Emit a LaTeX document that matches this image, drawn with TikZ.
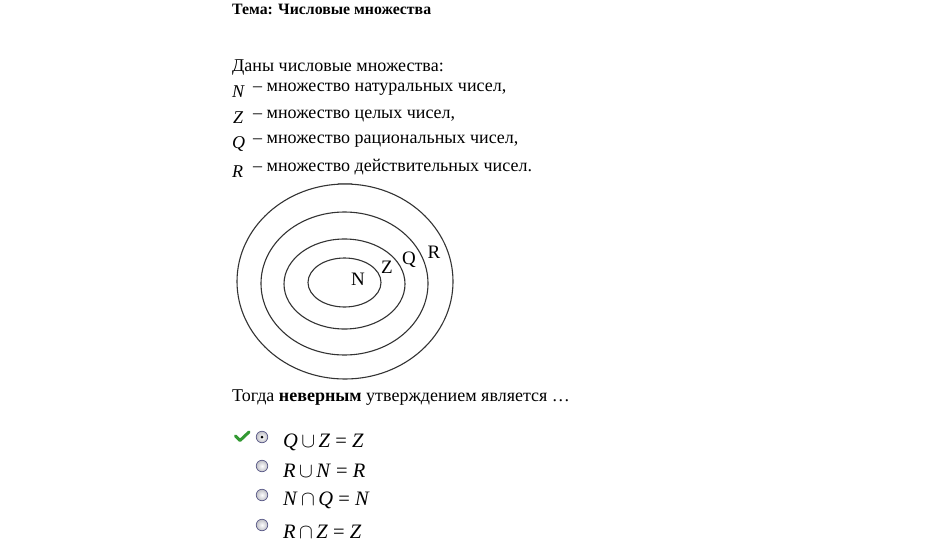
\documentclass[tikz,border=0pt]{standalone}
\usepackage{fontspec}
\setmainfont{Liberation Serif}
\usetikzlibrary{shapes.geometric}
\begin{document}
\begin{tikzpicture}[x=1pt,y=-1pt,
  txt/.style={anchor=base west,inner sep=0pt,font=\fontsize{18}{21}\selectfont},
  ttl/.style={anchor=base west,inner sep=0pt,font=\fontsize{15.8}{18}\selectfont\bfseries},
  var/.style={anchor=base west,inner sep=0pt,font=\fontsize{18}{21}\selectfont\itshape},
  lbl/.style={anchor=base,inner sep=0pt,font=\fontsize{19}{21}\selectfont},
  ring/.style={draw=black!80,line width=1.1pt},
  radio/.style={circle,draw=black!40!blue!30!gray,line width=0.7pt,inner sep=0pt,minimum size=11.5pt,inner color=white,outer color=blue!10!black!25},
  frm/.style={anchor=base west,inner sep=0pt,font=\fontsize{20.5}{23}\selectfont}
]
\useasboundingbox[fill=white] (0,0) rectangle (950,543);
% header
\node[ttl] (title) at (232,15) {Тема: Числовые множества};
\node[txt] (intro) at (232,71) {Даны числовые множества:};
\node[var] (vN) at (232,97) {N};
\node[txt] (tN) at (253,92) {– множество натуральных чисел,};
\node[var] (vZ) at (233,123) {Z};
\node[txt] (tZ) at (253,118) {– множество целых чисел,};
\node[var] (vQ) at (232,148) {Q};
\node[txt] (tQ) at (253,143) {– множество рациональных чисел,};
\node[var] (vR) at (232,177) {R};
\node[txt] (tR) at (253,171) {– множество действительных чисел.};
% diagram
\draw[ring] (345,281.5) ellipse [x radius=108,y radius=97.5];
\draw[ring] (344.5,283.5) ellipse [x radius=83.5,y radius=71.5];
\draw[ring] (344.5,284) ellipse [x radius=60.5,y radius=45];
\draw[ring] (344.5,282.5) ellipse [x radius=36.5,y radius=24.5];
\draw[black!60,line width=0.8pt] (338,183) -- (352,183);
\node[lbl] (lN) at (358,285) {N};
\node[lbl] (lZ) at (387,273) {Z};
\node[lbl] (lQ) at (409,264) {Q};
\node[lbl] (lR) at (434,258) {R};
% question
\node[txt] (q) at (232,401) {Тогда \textbf{неверным} утверждением является …};
% answers
\draw[line width=3pt,draw=green!50!black!80,line cap=round,line join=round] (235.5,436) -- (240,440.5) -- (249,432);
\node[radio] (r1) at (262,437) {};
\fill[black] (r1) circle (1.5pt);
\node[radio] (r2) at (262,466) {};
\node[radio] (r3) at (262,495) {};
\node[radio] (r4) at (262,525) {};
\node[frm] (f1) at (283,447) {\textit{Q}\,$\cup$\,\textit{Z} = \textit{Z}};
\node[frm] (f2) at (283,477) {\textit{R}\,$\cup$\,\textit{N} = \textit{R}};
\node[frm] (f3) at (283,505) {\textit{N}\,$\cap$\,\textit{Q} = \textit{N}};
\node[frm] (f4) at (283,538) {\textit{R}\,$\cap$\,\textit{Z} = \textit{Z}};
\end{tikzpicture}
\end{document}
